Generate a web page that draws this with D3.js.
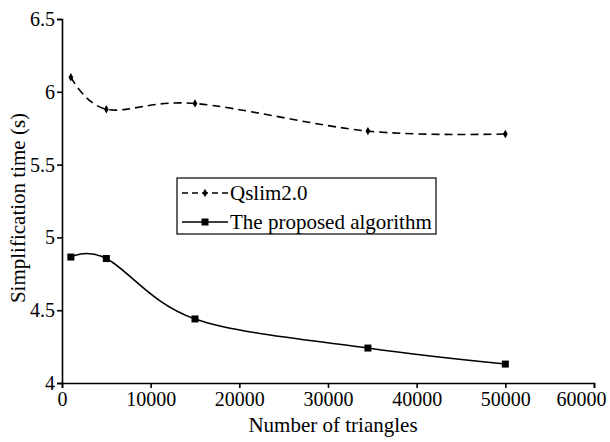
<!DOCTYPE html>
<html>
<head>
<meta charset="utf-8">
<script src="https://cdn.jsdelivr.net/npm/d3@7"></script>
<style>
  body { margin: 0; background: #fff; }
  text { font-family: "Liberation Serif", "Times New Roman", serif; fill: #000; }
</style>
</head>
<body>
<svg width="610" height="442"></svg>
<script>
// data
const triangles = [1000, 5000, 15000, 34500, 50000];
const qslimTimes = [6.10, 5.88, 5.92, 5.73, 5.71];
const proposedTimes = [4.865, 4.855, 4.44, 4.24, 4.13];
const xTicks = [0, 10000, 20000, 30000, 40000, 50000, 60000];
const yTicks = [4, 4.5, 5, 5.5, 6, 6.5];
const seriesNames = ['Qslim2.0', 'The proposed algorithm'];

const svg = d3.select('svg');
const margin = { top: 19, right: 16, bottom: 59, left: 62 };
const width = Number(svg.attr('width'));
const height = Number(svg.attr('height'));
const innerWidth = width - margin.left - margin.right;
const innerHeight = height - margin.top - margin.bottom;

const xScale = d3.scaleLinear().domain([0, 60000]).range([0, innerWidth]);
const yScale = d3.scaleLinear().domain([4, 6.5]).range([innerHeight, 0]);

const g = svg.append('g').attr('transform', `translate(${margin.left}, ${margin.top})`);

/* axes */
const xAxis = g.append('g')
  .attr('transform', `translate(0, ${innerHeight})`)
  .call(d3.axisBottom(xScale).tickValues(xTicks).tickFormat(d3.format('d')).tickSizeOuter(0).tickSize(5).tickPadding(4));

const yAxis = g.append('g')
  .call(d3.axisLeft(yScale).tickValues(yTicks).tickFormat(d => String(d)).tickSizeOuter(0).tickSize(5).tickPadding(2));

[xAxis, yAxis].forEach(ax => {
  ax.attr('font-family', null).attr('font-size', null);
  ax.selectAll('path, line').attr('stroke', '#000').attr('stroke-width', 1.6);
  ax.selectAll('text').style('font-size', '20px').attr('fill', '#000');
});

// last x label is pulled in so it fits the window
xAxis.selectAll('.tick text')
  .filter(d => d === 60000)
  .attr('text-anchor', 'end')
  .attr('dx', 12);

/* axis titles */
svg.append('text')
  .attr('x', 333).attr('y', 432)
  .attr('text-anchor', 'middle')
  .style('font-size', '21px')
  .text('Number of triangles');

svg.append('text')
  .attr('transform', 'translate(25, 208) rotate(-90)')
  .attr('text-anchor', 'middle')
  .style('font-size', '21px')
  .text('Simplification time (s)');

/* lines */
const line = d3.line()
  .x(d => xScale(d[0]))
  .y(d => yScale(d[1]))
  .curve(d3.curveCardinal.tension(0));

const qslim = triangles.map((t, i) => [t, qslimTimes[i]]);
const proposed = triangles.map((t, i) => [t, proposedTimes[i]]);

g.append('path').datum(qslim)
  .attr('d', line).attr('fill', 'none')
  .attr('stroke', '#000').attr('stroke-width', 1.6)
  .attr('stroke-dasharray', '8,5');

g.append('path').datum(proposed)
  .attr('d', line).attr('fill', 'none')
  .attr('stroke', '#000').attr('stroke-width', 1.6);

const diamond = d3.symbol().type(d3.symbolDiamond).size(20);

g.selectAll('.qpt').data(qslim).enter().append('path')
  .attr('class', 'qpt')
  .attr('d', diamond)
  .attr('transform', d => `translate(${xScale(d[0])}, ${yScale(d[1])})`)
  .attr('fill', '#000');

g.selectAll('.ppt').data(proposed).enter().append('rect')
  .attr('class', 'ppt')
  .attr('x', d => xScale(d[0]) - 3.5)
  .attr('y', d => yScale(d[1]) - 3.5)
  .attr('width', 7).attr('height', 7)
  .attr('fill', '#000');

/* legend */
const legend = svg.append('g').attr('transform', 'translate(177, 178)');
legend.append('rect')
  .attr('width', 259).attr('height', 56)
  .attr('fill', '#fff').attr('stroke', '#000').attr('stroke-width', 1.2);

seriesNames.forEach((name, i) => {
  const ly = 15 + i * 29;
  const row = legend.append('g').attr('transform', `translate(0, ${ly})`);
  row.append('line')
    .attr('x1', 5).attr('x2', 51).attr('y1', 0).attr('y2', 0)
    .attr('stroke', '#000').attr('stroke-width', 1.6)
    .attr('stroke-dasharray', i === 0 ? '6,4' : null);
  if (i === 0) {
    row.append('path').attr('d', diamond).attr('transform', 'translate(28, 0)').attr('fill', '#000');
  } else {
    row.append('rect').attr('x', 24.5).attr('y', -3.5).attr('width', 7).attr('height', 7).attr('fill', '#000');
  }
  row.append('text')
    .attr('x', 53).attr('y', 7)
    .style('font-size', '21px')
    .text(name);
});
</script>
</body>
</html>
